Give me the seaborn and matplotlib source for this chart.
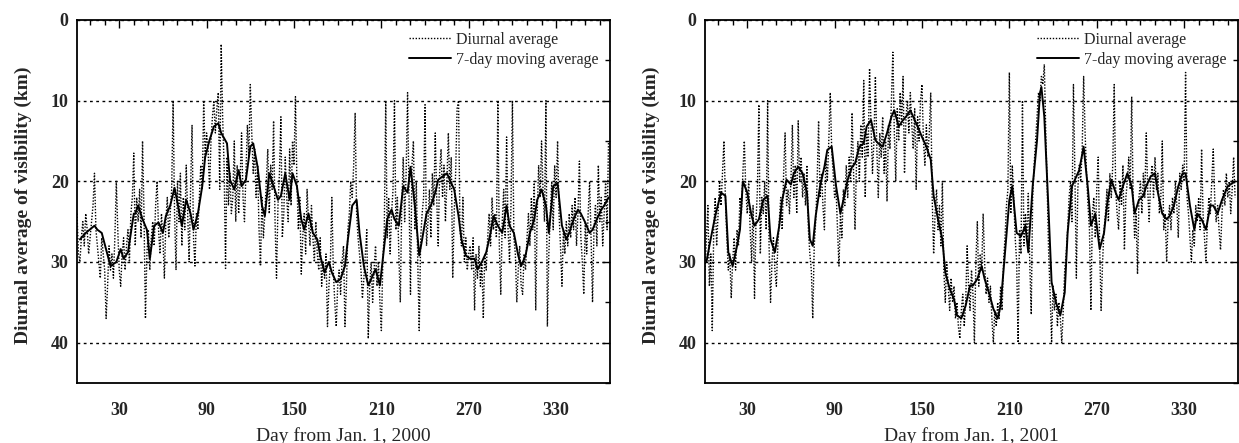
import matplotlib
matplotlib.use("Agg")
import matplotlib.pyplot as plt
import numpy as np
import pandas as pd
import seaborn as sns
from matplotlib.ticker import MultipleLocator, FixedLocator

# ---------------- data ----------------
diurnal_2000 = [
    24, 29, 30, 27, 25, 28, 24, 26, 29, 27,
    25, 23, 19, 26, 28, 30, 32, 27, 29, 31,
    37, 33, 28, 31, 29, 32, 27, 20, 26, 31,
    33, 29, 27, 31, 28, 26, 30, 24, 22, 16.5,
    28, 22, 25, 21, 27, 15, 24, 37, 29, 26,
    31, 27, 25, 28, 23, 20, 26, 29, 24, 27,
    32, 25, 22, 27, 24, 21, 10, 24, 31, 20,
    25, 19, 28, 22, 26, 18, 24, 30, 21, 13,
    27, 30.5, 24, 26, 22, 18, 21, 10, 17, 14,
    16, 21, 15, 12, 10, 14, 11, 9, 21, 3,
    12, 18, 30.8, 17, 23, 19, 24, 22, 15, 25,
    18, 24, 20, 14, 22, 25, 19, 13, 17, 8,
    14, 19, 16, 22, 18, 26, 30.5, 22, 27, 24,
    20, 16, 24, 18, 21, 12.5, 25, 32, 23, 19,
    12, 27, 24, 17, 22, 25, 16, 23, 15, 18,
    9.5, 20, 26, 22, 31.5, 27, 24, 29, 21, 25,
    28, 23, 27, 30, 25, 29, 31, 27, 33, 30,
    32, 29, 38, 33, 30, 22, 31, 35, 38, 33,
    31, 34, 30, 28, 38, 33, 26, 24, 20, 22,
    18, 11.5, 24, 27, 29, 31, 34.5, 32, 29, 26,
    39.5, 33, 30, 35, 31, 28, 33, 30, 35, 38.5,
    30, 26, 10, 27, 22, 29, 24, 21, 10, 26,
    22, 29, 35, 23, 17, 25, 19, 9, 22, 34,
    18, 15, 26, 20, 30, 38.5, 27, 24, 22, 10.5,
    28, 25, 21, 27, 19, 23, 14, 22, 28, 19,
    16, 22, 18, 25, 20, 14, 21, 17, 32, 24,
    19, 11, 10, 26, 28, 22, 30, 27, 31, 29,
    28, 31, 27, 36, 29, 32, 28, 33, 30, 37,
    29, 31, 27, 24, 28, 22, 26, 24, 27, 10,
    28, 34, 25, 21, 27, 14.5, 26, 30, 23, 10,
    27, 29, 35, 31, 28, 33, 34, 29, 31, 27,
    24, 28, 22, 26, 20, 36, 24, 18, 22, 15,
    21, 25, 10, 38, 29, 24, 20, 26, 18, 22,
    15, 24, 28, 33, 26, 29, 25, 28, 24, 27,
    23, 26, 22, 28, 24, 17.5, 27, 30, 34, 25,
    29, 24, 20, 27, 35, 26, 23, 28, 18, 25,
    22, 28, 24, 20, 26, 15,
]

ma_2000_days = [
    3, 7, 13, 15, 18, 24, 28, 31, 33, 36, 40, 41, 43, 46, 49, 51, 54, 57, 60, 62,
    65, 68, 70, 73, 76, 79, 81, 84, 87, 89, 92, 95, 98, 100, 104, 106, 109, 112, 114, 117,
    120, 122, 125, 128, 130, 133, 136, 139, 141, 144, 147, 149, 152, 155, 157, 160, 163, 166, 168, 171,
    174, 176, 179, 182, 185, 187, 190, 193, 195, 198, 201, 203, 206, 209, 211, 214, 217, 219, 222, 225,
    228, 230, 233, 236, 238, 241, 244, 247, 249, 252, 255, 257, 260, 263, 265, 268, 271, 274, 276, 279,
    282, 285, 287, 290, 293, 296, 298, 301, 304, 306, 309, 312, 315, 317, 320, 323, 325, 328, 331, 334,
    337, 339, 342, 345, 347, 350, 353, 355, 358, 361, 363, 366,
]
ma_2000 = [
    27.2, 26.4, 25.5, 26, 26.4, 30.5, 30, 28.4, 29.6, 28.8, 24, 24, 23, 24.7, 26, 29.6, 25.5, 25.1, 26.4, 24.3,
    23, 20.8, 22.7, 25.5, 22.3, 24, 26, 24, 20.6, 17, 14.9, 13.2, 12.8, 14, 15.3, 19.8, 21, 18.6, 20.6, 19.8,
    15.7, 15.3, 18.2, 23, 24.3, 19, 20.6, 22.3, 21.8, 19, 22.3, 19, 20.6, 24.7, 26, 24, 26.4, 27.2, 29.2, 31.3,
    30, 31.3, 32.5, 32.1, 30.5, 27.2, 23, 22.3, 26.4, 30.5, 32.9, 32.1, 30.9, 32.9, 29.6, 24.7, 23.5, 24.7, 25.5, 20.6,
    21.4, 18.2, 23, 29.2, 27.2, 24, 23, 21.4, 19.8, 19.4, 19, 19.8, 21, 24.3, 27.2, 29.2, 29.6, 29.6, 30.9, 30,
    28.8, 26.4, 24.3, 25.5, 26.4, 23, 25.5, 26.4, 29.2, 30.5, 29.2, 26.4, 24.7, 22.3, 21, 23, 26.4, 20.6, 20.2, 25.5,
    27.2, 26.4, 24.7, 23.5, 24, 25.1, 26.4, 26, 24.7, 23.5, 23, 22,
]

diurnal_2001 = [
    31, 27, 23, 33, 29, 38.5, 26, 22, 28, 24,
    20, 23, 19, 15, 22, 27, 31, 29, 34.5, 30,
    27, 31, 26, 28, 22, 24, 19, 15, 21, 24,
    20, 26, 30, 23, 34.5, 25, 21, 10.5, 29, 22,
    24, 20, 26, 10, 28, 35, 30, 27, 31, 33,
    28, 25, 22, 26, 19, 14, 23, 21, 24, 20,
    13, 22, 18, 24, 12.5, 20, 17, 22, 19, 23,
    18, 26, 29, 31, 37, 28, 25, 20, 12.5, 22,
    19, 23, 26, 17, 20, 15, 9, 16, 19, 22,
    21, 26, 30.5, 24, 27, 21, 23, 18, 22, 17,
    20, 11.5, 19, 26, 18, 15, 20, 13, 17, 7.5,
    22, 14, 17, 6, 13, 19, 15, 7, 16, 22,
    14, 17, 12, 19, 15, 22.5, 13, 16, 10, 4,
    14, 20, 11, 15, 9, 13, 7, 19, 12, 10,
    14, 9, 13, 16, 11, 21, 12, 15, 10, 8,
    15, 18, 13, 17, 14, 9, 22, 29, 24, 21,
    26, 23, 28, 20, 31, 35, 30, 33, 36, 32,
    35, 33, 37, 35, 38, 39.5, 36, 34, 38, 35,
    28, 33, 36, 31, 34, 40, 30, 25, 33, 29,
    31, 24, 30, 34, 32, 35, 33, 37, 40, 36,
    38, 35, 37, 33, 36, 30, 27, 23, 21, 6.5,
    24, 18, 22, 27, 30, 40, 26, 29, 10, 28,
    24, 27, 21.5, 30, 36.5, 22, 18, 15, 12, 9,
    10, 7, 8, 5.5, 14, 21, 29, 34, 40, 33,
    36, 34, 38, 35, 37, 40, 36, 31, 29, 26,
    22, 20, 25, 8, 19, 32, 21, 18, 20, 16,
    7, 14, 19, 23, 26, 36, 24, 22, 27, 21,
    17, 28, 36, 30, 26, 24, 21, 25, 19, 22,
    18, 8, 21, 24, 26, 20, 23, 18, 28.5, 22,
    20, 17, 21, 9.5, 22, 27, 24, 31.5, 22, 20,
    24, 19, 22, 14, 21, 25, 20, 18, 22, 17,
    21, 19, 24, 22, 15, 26, 24, 30, 25, 23,
    26, 22, 24, 20, 23, 27, 19, 21, 18, 20,
    6.5, 22, 24, 27, 30, 26, 28, 23, 25, 22,
    26, 16, 24, 27, 30, 25, 22, 24, 20, 16,
    22, 25, 23, 26, 28.5, 24, 21, 23, 19, 22,
    20, 24, 21, 17, 22,
]

ma_2001_days = [
    2, 4, 8, 12, 15, 17, 20, 23, 25, 27, 30, 33, 35, 38, 41, 44, 46, 49, 52, 54,
    57, 60, 62, 65, 68, 71, 73, 75, 77, 80, 83, 85, 88, 91, 94, 96, 99, 102, 104, 107,
    110, 112, 115, 118, 120, 123, 126, 129, 131, 134, 137, 139, 142, 145, 147, 150, 153, 156, 158, 161,
    164, 166, 169, 172, 174, 177, 180, 183, 185, 188, 191, 193, 196, 199, 202, 204, 207, 210, 212, 215,
    218, 221, 223, 226, 229, 231, 232, 234, 237, 239, 242, 245, 248, 250, 253, 256, 258, 261, 264, 266,
    269, 272, 275, 277, 280, 283, 285, 288, 291, 294, 296, 299, 302, 304, 307, 310, 312, 315, 318, 320,
    323, 326, 329, 331, 334, 337, 339, 342, 345, 348, 350, 353, 356, 360, 365,
]
ma_2001 = [
    30, 28, 24.3, 21.4, 21.8, 28.8, 30.5, 28, 26, 20, 21.4, 24.3, 25.5, 24.7, 22.3, 21.8, 27.2, 28.8, 25.5, 22.3,
    19.8, 20.4, 19, 18.2, 19, 21.4, 27.2, 28, 24.3, 20.6, 18.2, 16.1, 15.7, 20.6, 24, 22.3, 19.8, 18.2, 17.8, 15.7,
    15.3, 13.2, 12.4, 14.9, 15.3, 15.7, 14, 12, 11.2, 13.2, 12.4, 12, 11.2, 12.4, 13.2, 14.5, 15.7, 17.3, 21.8, 24.7,
    27.2, 31.3, 33.3, 34.6, 36.6, 37, 35.4, 32.9, 32.9, 32.1, 30.5, 32.1, 33.8, 35.8, 37, 35.4, 28.8, 22.3, 20.6, 26.4,
    26.8, 25.5, 28.8, 20.6, 14.9, 9.1, 8.3, 12, 24, 32.5, 35, 36.6, 33.8, 26.4, 20.6, 19.4, 18.6, 15.7, 21, 25.5,
    24, 28.4, 26.4, 23, 19.8, 21.4, 22.3, 20.6, 19, 20.6, 24, 22.3, 21.8, 20.6, 19.4, 19, 21.4, 24, 24.7, 24.3,
    23, 20.6, 19, 19, 23, 26, 24, 24.7, 26, 23, 23, 24, 22.3, 20.6, 20,
]

x_ticks = [30, 90, 150, 210, 270, 330]
y_ticks = [0, 10, 20, 30, 40]
x_labels = ["Day from Jan. 1, 2000", "Day from Jan. 1, 2001"]
y_label = "Diurnal average of visibility (km)"
legend_labels = ["Diurnal average", "7-day moving average"]

# ---------------- styling ----------------
sns.set_theme(style="white")
plt.rcParams["font.family"] = ["Liberation Serif", "DejaVu Serif"]

fig = plt.figure(figsize=(12.39, 4.43), dpi=100)
ax1 = fig.add_axes([77 / 1239, 60 / 443, 533 / 1239, 363 / 443])
ax2 = fig.add_axes([705 / 1239, 60 / 443, 533 / 1239, 363 / 443])

dotted = (0, (1.0, 1.2))
panels = [
    (ax1, diurnal_2000, ma_2000_days, ma_2000, x_labels[0]),
    (ax2, diurnal_2001, ma_2001_days, ma_2001, x_labels[1]),
]

for ax, diurnal, ma_days, ma_vals, xlab in panels:
    df_d = pd.DataFrame({"day": np.arange(1, len(diurnal) + 1), "vis": diurnal})
    df_m = pd.DataFrame({"day": ma_days, "vis": ma_vals})
    sns.lineplot(data=df_d, x="day", y="vis", ax=ax, color="black", lw=1.0,
                 linestyle=dotted, estimator=None, label=legend_labels[0])
    sns.lineplot(data=df_m, x="day", y="vis", ax=ax, color="black", lw=1.4,
                 estimator=None, label=legend_labels[1])

    ax.set_xlim(1, 367)
    ax.set_ylim(45, 0)
    ax.xaxis.set_major_locator(FixedLocator(x_ticks))
    ax.xaxis.set_minor_locator(MultipleLocator(10))
    ax.yaxis.set_major_locator(FixedLocator(y_ticks))
    ax.yaxis.set_minor_locator(MultipleLocator(5))
    ax.tick_params(which="both", direction="in", top=True, right=True,
                   color="black", width=1.0)
    ax.tick_params(which="major", length=6)
    ax.tick_params(which="minor", length=3.5)
    ax.tick_params(axis="x", which="major", pad=14)
    ax.tick_params(axis="y", which="major", pad=6)
    for lab in ax.get_xticklabels() + ax.get_yticklabels():
        lab.set_fontweight("bold")
        lab.set_fontsize(13)
    ax.grid(axis="y", which="major", color="black", linestyle=(0, (2, 2.5)), lw=1.0)
    ax.grid(axis="x", visible=False)
    for sp in ax.spines.values():
        sp.set_color("black")
        sp.set_linewidth(1.3)
    ax.set_xlabel(xlab, fontsize=14)
    ax.xaxis.set_label_coords(0.5, -0.145)
    ax.xaxis.label.set_va("center")
    ax.set_ylabel(y_label, fontsize=14, fontweight="bold")
    ax.yaxis.set_label_coords(-0.1, 0.49)
    ax.yaxis.label.set_va("center")
    ax.legend(loc="upper right", frameon=False, fontsize=11.5, handlelength=2.6,
              handletextpad=0.3, labelspacing=0.25, borderaxespad=0.35)

fig.savefig("out.png", dpi=100)
